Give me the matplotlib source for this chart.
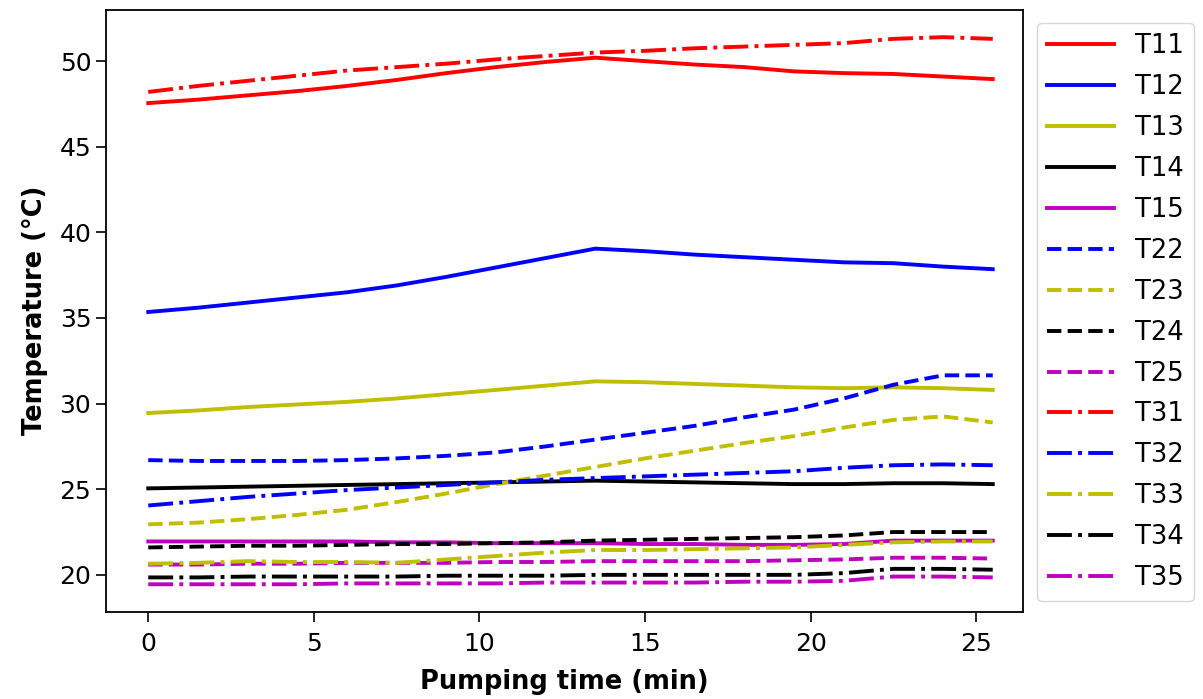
import numpy as np
import matplotlib
matplotlib.use("Agg")
import matplotlib.pyplot as plt

# pumping time (min)
t = [0, 1.5, 3, 4.5, 6, 7.5, 9, 10.5, 12, 13.5, 15, 16.5, 18, 19.5, 21, 22.5, 24, 25.5]

T11 = [47.55, 47.75, 48.0, 48.25, 48.55, 48.9, 49.3, 49.65, 49.95, 50.2, 50.0, 49.8, 49.65, 49.4, 49.3, 49.25, 49.1, 48.95]
T12 = [35.35, 35.6, 35.9, 36.2, 36.5, 36.9, 37.4, 37.95, 38.5, 39.05, 38.9, 38.7, 38.55, 38.4, 38.25, 38.2, 38.0, 37.85]
T13 = [29.45, 29.6, 29.8, 29.95, 30.1, 30.3, 30.55, 30.8, 31.05, 31.3, 31.25, 31.15, 31.05, 30.95, 30.9, 30.95, 30.9, 30.8]
T14 = [25.05, 25.1, 25.15, 25.2, 25.25, 25.3, 25.35, 25.4, 25.45, 25.5, 25.45, 25.4, 25.35, 25.3, 25.3, 25.35, 25.35, 25.3]
T15 = [21.95, 21.95, 21.95, 21.95, 21.95, 21.9, 21.9, 21.85, 21.85, 21.85, 21.8, 21.8, 21.75, 21.75, 21.8, 22.0, 22.0, 22.0]
T22 = [26.7, 26.65, 26.65, 26.65, 26.7, 26.8, 26.95, 27.15, 27.5, 27.9, 28.3, 28.7, 29.2, 29.65, 30.3, 31.1, 31.65, 31.65]
T23 = [22.95, 23.05, 23.25, 23.5, 23.8, 24.25, 24.75, 25.3, 25.8, 26.3, 26.8, 27.25, 27.7, 28.1, 28.6, 29.05, 29.25, 28.9]
T24 = [21.6, 21.65, 21.7, 21.7, 21.75, 21.8, 21.8, 21.85, 21.9, 22.0, 22.05, 22.1, 22.15, 22.2, 22.3, 22.5, 22.5, 22.5]
T25 = [20.6, 20.6, 20.65, 20.65, 20.7, 20.7, 20.7, 20.75, 20.75, 20.8, 20.8, 20.8, 20.8, 20.85, 20.9, 21.0, 21.0, 20.95]
T31 = [48.2, 48.55, 48.85, 49.15, 49.45, 49.65, 49.85, 50.1, 50.3, 50.5, 50.6, 50.75, 50.85, 50.95, 51.05, 51.3, 51.4, 51.3]
T32 = [24.05, 24.3, 24.55, 24.75, 24.95, 25.1, 25.25, 25.4, 25.55, 25.65, 25.75, 25.85, 25.95, 26.05, 26.25, 26.4, 26.45, 26.4]
T33 = [20.65, 20.7, 20.8, 20.75, 20.75, 20.7, 20.9, 21.1, 21.3, 21.45, 21.45, 21.5, 21.55, 21.6, 21.75, 21.9, 21.95, 21.95]
T34 = [19.85, 19.85, 19.9, 19.9, 19.9, 19.9, 19.95, 19.95, 19.95, 20.0, 20.0, 20.0, 20.0, 20.0, 20.1, 20.35, 20.35, 20.3]
T35 = [19.45, 19.45, 19.45, 19.45, 19.5, 19.5, 19.5, 19.5, 19.55, 19.55, 19.55, 19.55, 19.6, 19.6, 19.65, 19.9, 19.9, 19.85]

series = [
    ("T11", T11, "r", "-"), ("T12", T12, "b", "-"), ("T13", T13, "y", "-"),
    ("T14", T14, "k", "-"), ("T15", T15, "m", "-"),
    ("T22", T22, "b", "--"), ("T23", T23, "y", "--"), ("T24", T24, "k", "--"),
    ("T25", T25, "m", "--"),
    ("T31", T31, "r", "-."), ("T32", T32, "b", "-."), ("T33", T33, "y", "-."),
    ("T34", T34, "k", "-."), ("T35", T35, "m", "-."),
]

fig = plt.figure(figsize=(12.03, 6.99), dpi=100)
ax = fig.add_axes([0.088, 0.125, 0.762, 0.861])

for name, vals, c, ls in series:
    ax.plot(t, vals, color=c, linestyle=ls, linewidth=2.8, label=name)

ax.set_xlim(-1.28, 26.4)
ax.set_xticks([0, 5, 10, 15, 20, 25])
ax.set_yticks([20, 25, 30, 35, 40, 45, 50])
ax.tick_params(labelsize=18, length=7, width=1.2)
ax.tick_params(axis="x", pad=8)
ax.set_xlabel("Pumping time (min)", fontsize=18.5, fontweight="bold", labelpad=9)
ax.set_ylabel("Temperature (°C)", fontsize=18.5, fontweight="bold", labelpad=8)
for s in ax.spines.values():
    s.set_linewidth(1.3)

ax.legend(loc="upper left", bbox_to_anchor=(1.016, 0.978), fontsize=18.5,
          labelspacing=0.58, handlelength=2.6, handletextpad=0.8,
          borderaxespad=0.0)

fig.savefig("out.png", dpi=100)
